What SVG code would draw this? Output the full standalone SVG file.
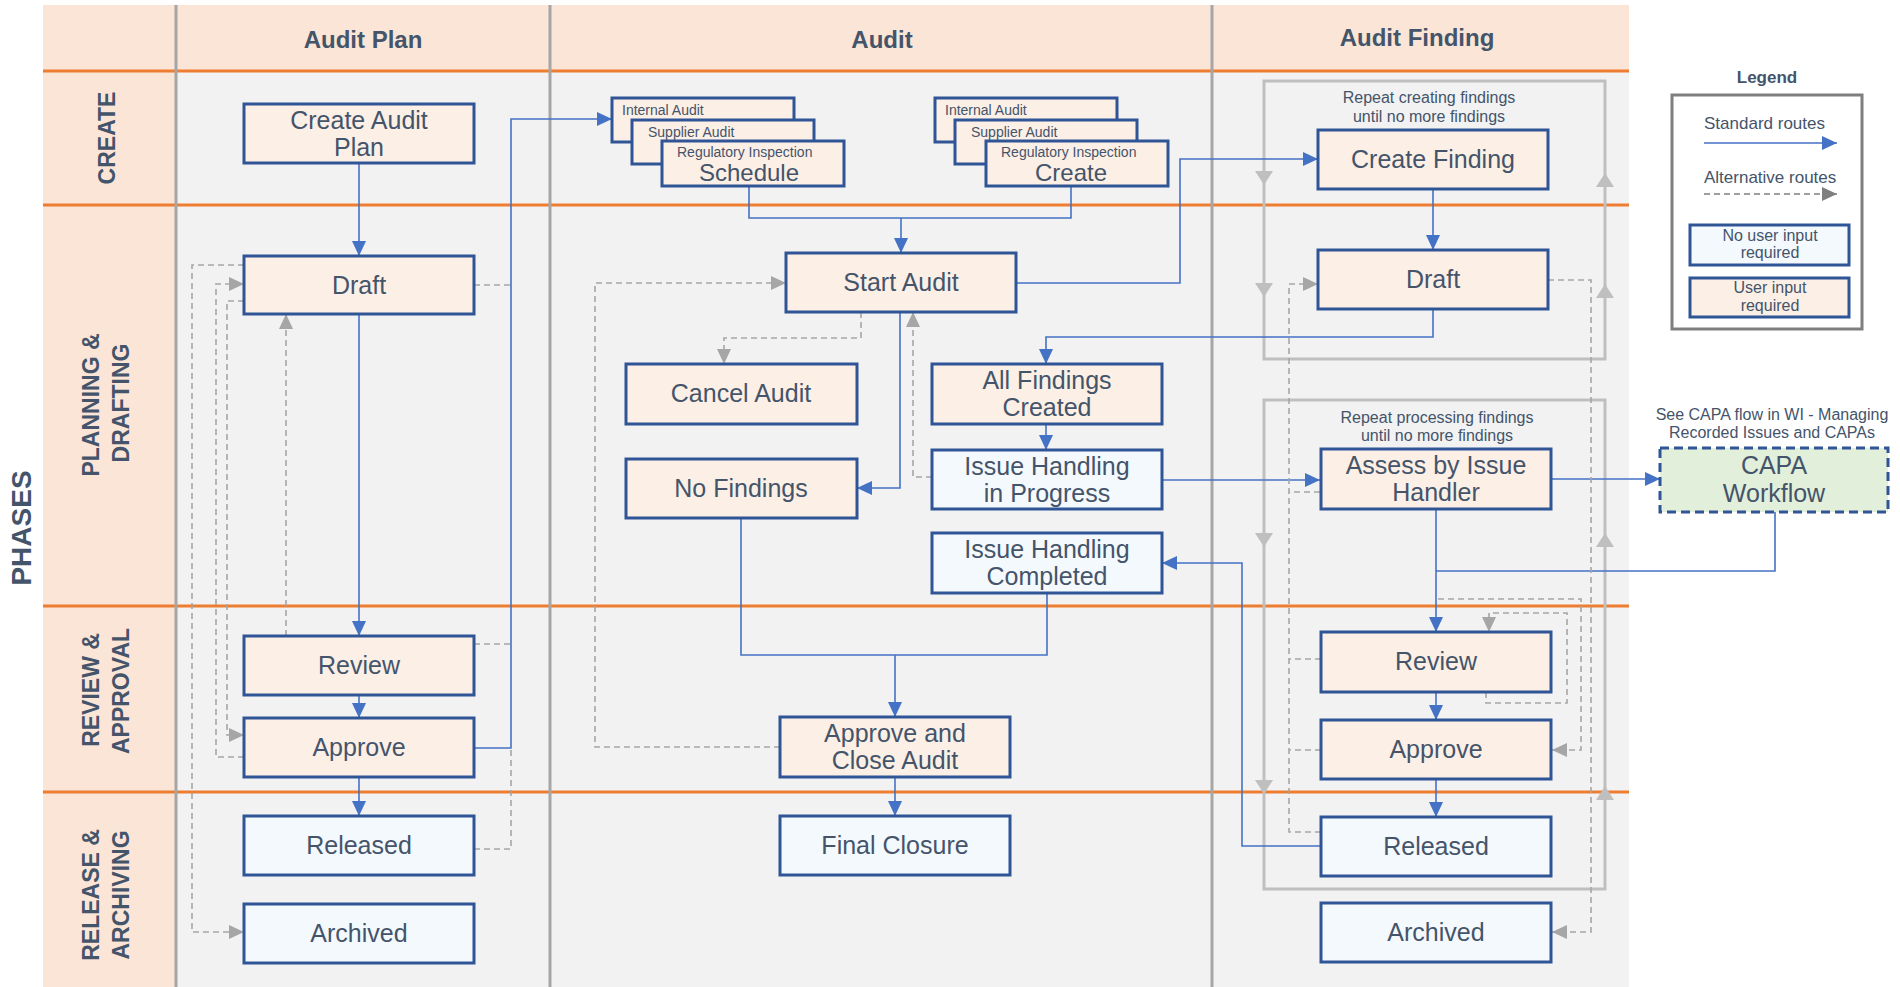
<svg xmlns="http://www.w3.org/2000/svg" width="1900" height="987" viewBox="0 0 1900 987">
<style>
.hdr{fill:#fbe5d6}
.lane{fill:#f2f2f2}
.orange{stroke:#ed7d31;stroke-width:3;fill:none}
.div{stroke:#a6a6a6;stroke-width:3;fill:none}
.ttl{font-family:"Liberation Sans",Arial,sans-serif;font-weight:bold;fill:#44546a;text-anchor:middle}
.u{fill:#fcefe6;stroke:#2f5597;stroke-width:3}
.n{fill:#f4f9fd;stroke:#2f5597;stroke-width:3}
.t{font-family:"Liberation Sans",Arial,sans-serif;font-size:25px;fill:#44546a;text-anchor:middle}
.s{font-family:"Liberation Sans",Arial,sans-serif;font-size:14px;fill:#44546a}
.lg{font-family:"Liberation Sans",Arial,sans-serif;font-size:17px;fill:#44546a}
.note{font-family:"Liberation Sans",Arial,sans-serif;font-size:16px;fill:#44546a;text-anchor:middle}
.b{stroke:#4472c4;stroke-width:1.6;fill:none}
.ba{stroke:#4472c4;stroke-width:1.6;fill:none;marker-end:url(#ab)}
.d{stroke:#a6a6a6;stroke-width:1.6;fill:none;stroke-dasharray:6 4}
.da{stroke:#a6a6a6;stroke-width:1.6;fill:none;stroke-dasharray:6 4;marker-end:url(#ag)}
.reg{stroke:#bfbfbf;stroke-width:3;fill:none}
.regarr{fill:#bfbfbf}
</style>
<defs>
<marker id="ab" viewBox="0 0 15 14" markerWidth="15" markerHeight="14" refX="15" refY="7" orient="auto" markerUnits="userSpaceOnUse"><path d="M0,0 L15,7 L0,14 z" fill="#4472c4"/></marker>
<marker id="ag" viewBox="0 0 15 14" markerWidth="15" markerHeight="14" refX="15" refY="7" orient="auto" markerUnits="userSpaceOnUse"><path d="M0,0 L15,7 L0,14 z" fill="#a6a6a6"/></marker>
<marker id="ad" viewBox="0 0 15 14" markerWidth="15" markerHeight="14" refX="15" refY="7" orient="auto" markerUnits="userSpaceOnUse"><path d="M0,0 L15,7 L0,14 z" fill="#7f7f7f"/></marker>
</defs>

<g id="background">
<rect class="hdr" x="43" y="5" width="1586" height="982"/>
<rect class="lane" x="176" y="71" width="1453" height="916"/>
<line class="orange" x1="43" y1="71" x2="1629" y2="71"/>
<line class="orange" x1="43" y1="205" x2="1629" y2="205"/>
<line class="orange" x1="43" y1="606" x2="1629" y2="606"/>
<line class="orange" x1="43" y1="792" x2="1629" y2="792"/>
<line class="div" x1="176" y1="5" x2="176" y2="987"/>
<line class="div" x1="550" y1="5" x2="550" y2="987"/>
<line class="div" x1="1212" y1="5" x2="1212" y2="987"/>
<text class="ttl" x="363" y="48" font-size="24">Audit Plan</text>
<text class="ttl" x="882" y="48" font-size="24">Audit</text>
<text class="ttl" x="1417" y="46" font-size="24">Audit Finding</text>
<text class="ttl" font-size="28" transform="translate(31,528) rotate(-90)">PHASES</text>
<text class="ttl" font-size="23" transform="translate(115,138) rotate(-90)">CREATE</text>
<text class="ttl" font-size="23" transform="translate(99,405) rotate(-90)">PLANNING &amp;</text>
<text class="ttl" font-size="23" transform="translate(129,403) rotate(-90)">DRAFTING</text>
<text class="ttl" font-size="23" transform="translate(99,690) rotate(-90)">REVIEW &amp;</text>
<text class="ttl" font-size="23" transform="translate(129,691) rotate(-90)">APPROVAL</text>
<text class="ttl" font-size="23" transform="translate(99,895) rotate(-90)">RELEASE &amp;</text>
<text class="ttl" font-size="23" transform="translate(129,895) rotate(-90)">ARCHIVING</text>
</g>

<g id="regions">
<rect class="reg" x="1264" y="81" width="341" height="278"/>
<rect class="reg" x="1264" y="400" width="341" height="489"/>
<polygon class="regarr" points="1255,171 1273,171 1264,185"/>
<polygon class="regarr" points="1255,283 1273,283 1264,297"/>
<polygon class="regarr" points="1255,533 1273,533 1264,547"/>
<polygon class="regarr" points="1255,780 1273,780 1264,794"/>
<polygon class="regarr" points="1596,187 1614,187 1605,173"/>
<polygon class="regarr" points="1596,298 1614,298 1605,284"/>
<polygon class="regarr" points="1596,547 1614,547 1605,533"/>
<polygon class="regarr" points="1596,800 1614,800 1605,786"/>
<text class="note" x="1429" y="103">Repeat creating findings</text>
<text class="note" x="1429" y="122">until no more findings</text>
<text class="note" x="1437" y="423">Repeat processing findings</text>
<text class="note" x="1437" y="441">until no more findings</text>
<text class="note" x="1772" y="420">See CAPA flow in WI - Managing</text>
<text class="note" x="1772" y="438">Recorded Issues and CAPAs</text>
</g>

<g id="connectors">
<!-- Audit Plan -->
<path class="ba" d="M359,163 V256"/>
<path class="ba" d="M359,314 V636"/>
<path class="ba" d="M359,695 V718"/>
<path class="ba" d="M359,777 V816"/>
<path class="ba" d="M474,748 H511 V119 H612"/>
<path class="d" d="M474,285 H511"/>
<path class="d" d="M474,644 H511"/>
<path class="d" d="M474,849 H511 V748"/>
<path class="da" d="M286,636 V314"/>
<path class="da" d="M244,265 H192 V932 H244"/>
<path class="da" d="M244,757 H216 V284 H244"/>
<path class="da" d="M244,301 H227 V735 H244"/>
<!-- Audit -->
<path class="b" d="M749,186 V218 H1071 V186"/>
<path class="ba" d="M901,218 V253"/>
<path class="ba" d="M1016,283 H1180 V159 H1318"/>
<path class="da" d="M861,312 V338 H724 V364"/>
<path class="ba" d="M900,312 V488 H857"/>
<path class="da" d="M932,477 H913 V312"/>
<path class="ba" d="M1433,309 V337 H1046 V364"/>
<path class="ba" d="M1046,424 V450"/>
<path class="ba" d="M1162,480 H1320"/>
<path class="ba" d="M1321,846 H1242 V563 H1162"/>
<path class="b" d="M741,518 V655 H1047 V593"/>
<path class="ba" d="M895,655 V717"/>
<path class="da" d="M780,747 H595 V283 H786"/>
<path class="ba" d="M895,777 V816"/>
<!-- Audit Finding -->
<path class="ba" d="M1433,189 V250"/>
<path class="ba" d="M1550,479 H1660"/>
<path class="b" d="M1775,512 V571 H1436"/>
<path class="ba" d="M1436,509 V632"/>
<path class="ba" d="M1436,692 V720"/>
<path class="ba" d="M1436,779 V817"/>
<path class="da" d="M1548,280 H1591 V932 H1552"/>
<path class="da" d="M1321,832 H1289 V284 H1318"/>
<path class="d" d="M1320,492 H1289"/>
<path class="d" d="M1321,659 H1289"/>
<path class="d" d="M1321,750 H1289"/>
<path class="da" d="M1438,599 H1581 V750 H1552"/>
<path class="da" d="M1486,692 V703 H1567 V613 H1489 V632"/>
</g>

<g id="n-create-audit-plan"><rect class="u" x="244" y="104" width="230" height="59"/><text class="t" x="359" y="129">Create Audit</text><text class="t" x="359" y="156">Plan</text></g>
<g id="n-ap-draft"><rect class="u" x="244" y="256" width="230" height="58"/><text class="t" x="359" y="294">Draft</text></g>
<g id="n-ap-review"><rect class="u" x="244" y="636" width="230" height="59"/><text class="t" x="359" y="674">Review</text></g>
<g id="n-ap-approve"><rect class="u" x="244" y="718" width="230" height="59"/><text class="t" x="359" y="756">Approve</text></g>
<g id="n-ap-released"><rect class="n" x="244" y="816" width="230" height="59"/><text class="t" x="359" y="854">Released</text></g>
<g id="n-ap-archived"><rect class="n" x="244" y="904" width="230" height="59"/><text class="t" x="359" y="942">Archived</text></g>

<g id="n-schedule">
<rect class="u" x="612" y="98" width="182" height="44"/><text class="s" x="622" y="115">Internal Audit</text>
<rect class="u" x="632" y="120" width="182" height="44"/><text class="s" x="648" y="137">Supplier Audit</text>
<rect class="u" x="662" y="141" width="182" height="45"/><text class="s" x="677" y="157">Regulatory Inspection</text>
<text class="t" x="749" y="181" style="font-size:24px">Schedule</text>
</g>
<g id="n-create">
<rect class="u" x="935" y="98" width="182" height="44"/><text class="s" x="945" y="115">Internal Audit</text>
<rect class="u" x="955" y="120" width="182" height="44"/><text class="s" x="971" y="137">Supplier Audit</text>
<rect class="u" x="986" y="141" width="182" height="45"/><text class="s" x="1001" y="157">Regulatory Inspection</text>
<text class="t" x="1071" y="181" style="font-size:24px">Create</text>
</g>
<g id="n-start-audit"><rect class="u" x="786" y="253" width="230" height="59"/><text class="t" x="901" y="291">Start Audit</text></g>
<g id="n-cancel-audit"><rect class="u" x="626" y="364" width="231" height="60"/><text class="t" x="741" y="402">Cancel Audit</text></g>
<g id="n-no-findings"><rect class="u" x="626" y="459" width="231" height="59"/><text class="t" x="741" y="497">No Findings</text></g>
<g id="n-all-findings"><rect class="u" x="932" y="364" width="230" height="60"/><text class="t" x="1047" y="389">All Findings</text><text class="t" x="1047" y="416">Created</text></g>
<g id="n-ih-progress"><rect class="n" x="932" y="450" width="230" height="59"/><text class="t" x="1047" y="475">Issue Handling</text><text class="t" x="1047" y="502">in Progress</text></g>
<g id="n-ih-completed"><rect class="n" x="932" y="533" width="230" height="60"/><text class="t" x="1047" y="558">Issue Handling</text><text class="t" x="1047" y="585">Completed</text></g>
<g id="n-approve-close"><rect class="u" x="780" y="717" width="230" height="60"/><text class="t" x="895" y="742">Approve and</text><text class="t" x="895" y="769">Close Audit</text></g>
<g id="n-final-closure"><rect class="n" x="780" y="816" width="230" height="59"/><text class="t" x="895" y="854">Final Closure</text></g>

<g id="n-create-finding"><rect class="u" x="1318" y="130" width="230" height="59"/><text class="t" x="1433" y="168">Create Finding</text></g>
<g id="n-af-draft"><rect class="u" x="1318" y="250" width="230" height="59"/><text class="t" x="1433" y="288">Draft</text></g>
<g id="n-assess"><rect class="u" x="1321" y="449" width="230" height="60"/><text class="t" x="1436" y="474">Assess by Issue</text><text class="t" x="1436" y="501">Handler</text></g>
<g id="n-capa"><rect x="1660" y="448" width="228" height="64" fill="#e2efda" stroke="#2f5597" stroke-width="3" stroke-dasharray="9 5"/><text class="t" x="1774" y="474">CAPA</text><text class="t" x="1774" y="502">Workflow</text></g>
<g id="n-af-review"><rect class="u" x="1321" y="632" width="230" height="60"/><text class="t" x="1436" y="670">Review</text></g>
<g id="n-af-approve"><rect class="u" x="1321" y="720" width="230" height="59"/><text class="t" x="1436" y="758">Approve</text></g>
<g id="n-af-released"><rect class="n" x="1321" y="817" width="230" height="59"/><text class="t" x="1436" y="855">Released</text></g>
<g id="n-af-archived"><rect class="n" x="1321" y="903" width="230" height="59"/><text class="t" x="1436" y="941">Archived</text></g>

<g id="legend">
<text class="ttl" x="1767" y="83" font-size="17">Legend</text>
<rect x="1672" y="95" width="190" height="234" fill="#ffffff" stroke="#7f7f7f" stroke-width="3"/>
<text class="lg" x="1704" y="129">Standard routes</text>
<path d="M1704,143 H1837" stroke="#4472c4" stroke-width="1.6" fill="none" marker-end="url(#ab)"/>
<text class="lg" x="1704" y="183">Alternative routes</text>
<path d="M1704,194 H1837" stroke="#7f7f7f" stroke-width="1.6" fill="none" stroke-dasharray="6 4" marker-end="url(#ad)"/>
<rect class="n" x="1690" y="225" width="159" height="40"/>
<text class="note" x="1770" y="241">No user input</text>
<text class="note" x="1770" y="258">required</text>
<rect class="u" x="1690" y="278" width="159" height="39"/>
<text class="note" x="1770" y="293">User input</text>
<text class="note" x="1770" y="311">required</text>
</g>
</svg>
